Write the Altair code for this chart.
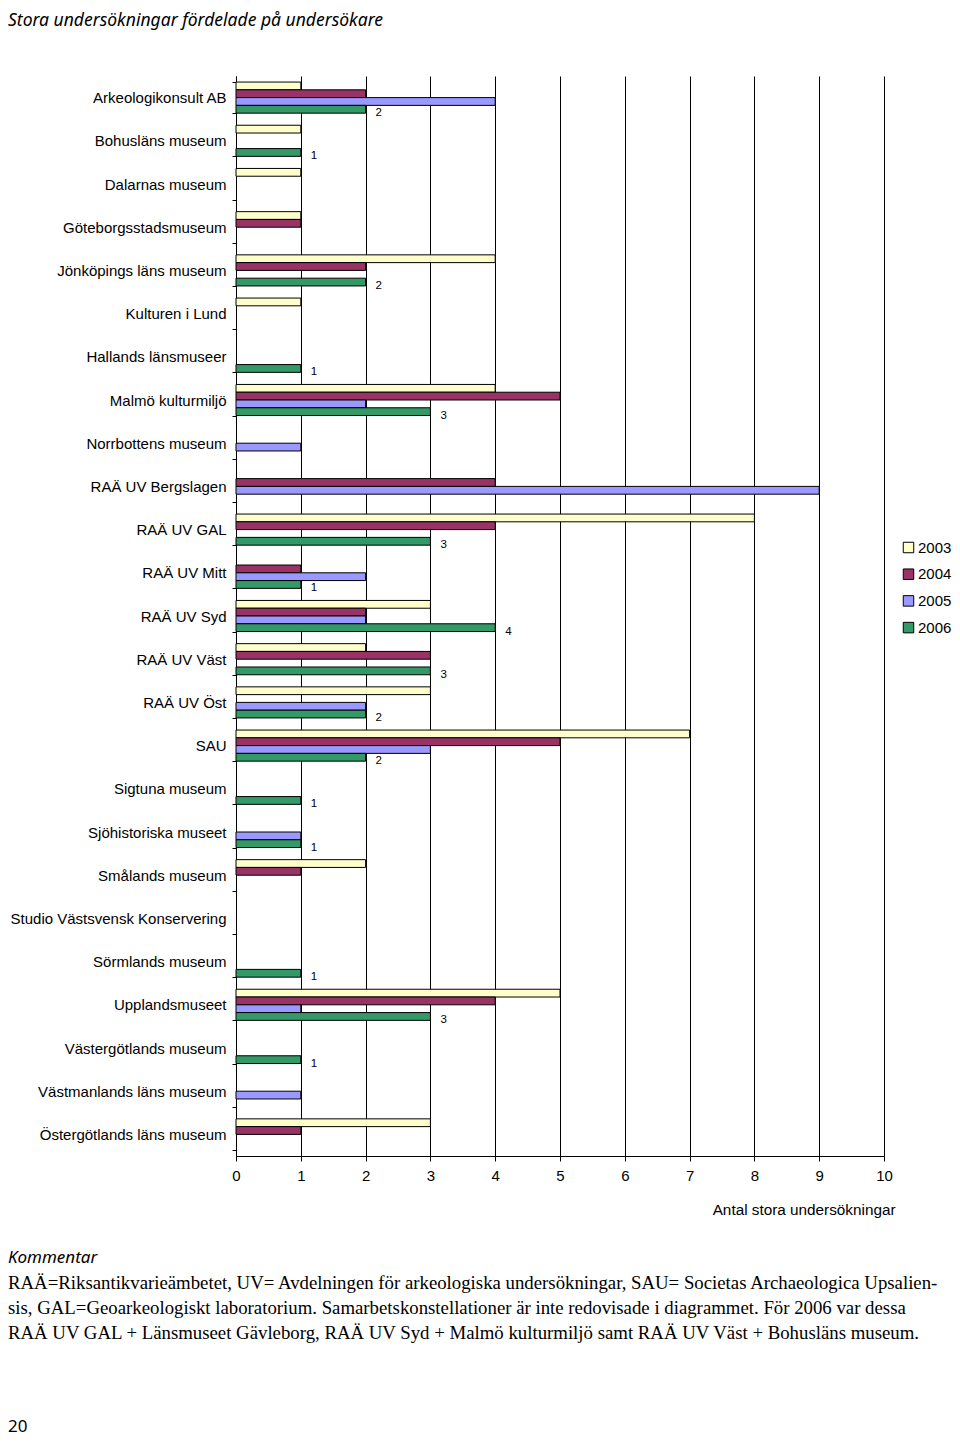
import altair as alt
import pandas as pd

categories = [
    "Arkeologikonsult AB", "Bohusläns museum", "Dalarnas museum", "Göteborgsstadsmuseum",
    "Jönköpings läns museum", "Kulturen i Lund", "Hallands länsmuseer", "Malmö kulturmiljö",
    "Norrbottens museum", "RAÄ UV Bergslagen", "RAÄ UV GAL", "RAÄ UV Mitt", "RAÄ UV Syd",
    "RAÄ UV Väst", "RAÄ UV Öst", "SAU", "Sigtuna museum", "Sjöhistoriska museet",
    "Smålands museum", "Studio Västsvensk Konservering", "Sörmlands museum", "Upplandsmuseet",
    "Västergötlands museum", "Västmanlands läns museum", "Östergötlands läns museum",
]
years = ["2003", "2004", "2005", "2006"]
v2003 = [1, 1, 1, 1, 4, 1, 0, 4, 0, 0, 8, 0, 3, 2, 3, 7, 0, 0, 2, 0, 0, 5, 0, 0, 3]
v2004 = [2, 0, 0, 1, 2, 0, 0, 5, 0, 4, 4, 1, 2, 3, 0, 5, 0, 0, 1, 0, 0, 4, 0, 0, 1]
v2005 = [4, 0, 0, 0, 0, 0, 0, 2, 1, 9, 0, 2, 2, 0, 2, 3, 0, 1, 0, 0, 0, 1, 0, 1, 0]
v2006 = [2, 1, 0, 0, 2, 0, 1, 3, 0, 0, 3, 1, 4, 3, 2, 2, 1, 1, 0, 0, 1, 3, 1, 0, 0]
colors = ["#FFFFCC", "#993366", "#9999FF", "#339966"]
x_ticks = [0, 1, 2, 3, 4, 5, 6, 7, 8, 9, 10]

title_text = "Stora undersökningar fördelade på undersökare"
x_title = "Antal stora undersökningar"
comment_head = "Kommentar"
comment_lines = [
    "RAÄ=Riksantikvarieämbetet, UV= Avdelningen för arkeologiska undersökningar, SAU= Societas Archaeologica Upsalien-",
    "sis, GAL=Geoarkeologiskt laboratorium. Samarbetskonstellationer är inte redovisade i diagrammet. För 2006 var dessa",
    "RAÄ UV GAL + Länsmuseet Gävleborg, RAÄ UV Syd + Malmö kulturmiljö samt RAÄ UV Väst + Bohusläns museum.",
]
page_number = "20"

rows = []
for yr, vals in zip(years, [v2003, v2004, v2005, v2006]):
    for org, v in zip(categories, vals):
        rows.append({"org": org, "year": yr, "value": v})
df = pd.DataFrame(rows)

y_enc = alt.Y(
    "org:N",
    sort=categories,
    scale=alt.Scale(domain=categories, paddingInner=0.28, paddingOuter=0.14),
    axis=alt.Axis(
        title=None, tickBand="extent", labelFontSize=15, labelFont="Liberation Sans",
        labelColor="black", domainColor="black", tickColor="black", tickSize=4,
        labelPadding=6, grid=False, labelLimit=400,
    ),
)
yoff_enc = alt.YOffset("year:N", sort=years, scale=alt.Scale(domain=years, paddingInner=0, paddingOuter=0))
x_enc = alt.X(
    "value:Q",
    scale=alt.Scale(domain=[0, 10], nice=False),
    axis=alt.Axis(
        values=x_ticks, format="d", grid=True, gridColor="black", gridOpacity=1, gridWidth=1,
        domainColor="black", tickColor="black", tickSize=5, labelFontSize=15,
        labelFont="Liberation Sans", labelColor="black", labelPadding=7, labelFlush=False,
        title=x_title, titleFontSize=15.3, titleFont="Liberation Sans", titleFontWeight="normal",
        titleColor="black", titleX=659, titleY=53, titleAlign="right", titleBaseline="middle",
    ),
)

bars = alt.Chart(df).mark_bar(stroke="black", strokeWidth=1).encode(
    y=y_enc,
    x=x_enc,
    yOffset=yoff_enc,
    color=alt.Color(
        "year:N",
        scale=alt.Scale(domain=years, range=colors),
        legend=alt.Legend(
            title=None, orient="none", legendX=665, legendY=464, symbolType="square",
            symbolSize=110, symbolStrokeColor="black", symbolStrokeWidth=1,
            symbolOpacity=1, labelFontSize=15, labelFont="Liberation Sans",
            labelColor="black", rowPadding=10.7, labelOffset=2,
        ),
    ),
).transform_filter("datum.value > 0")

labels = alt.Chart(df).mark_text(
    align="left", baseline="middle", dx=10, dy=4, fontSize=11.5, font="Liberation Sans", color="black"
).encode(
    y=y_enc,
    x=alt.X("value:Q", scale=alt.Scale(domain=[0, 10], nice=False)),
    yOffset=yoff_enc,
    text=alt.Text("value:Q", format="d"),
).transform_filter("datum.year == '2006' && datum.value > 0")


def note(txt, y, font, size, style="normal"):
    return alt.Chart(alt.Data(values=[{"t": txt}])).mark_text(
        align="left", baseline="middle", font=font, fontSize=size, fontStyle=style, color="black"
    ).encode(x=alt.value(-228), y=alt.value(y), text="t:N")


notes = [note(title_text, -55, "Noto Sans", 17.5, "italic"),
         note(comment_head, 1182, "Noto Sans", 17, "italic")]
for i, line in enumerate(comment_lines):
    notes.append(note(line, 1207 + 25 * i, "Liberation Serif", 18.8))
notes.append(note(page_number, 1351, "Noto Sans", 17))

chart = alt.layer(bars, labels, *notes).properties(
    width=648,
    height=1080,
    autosize=alt.AutoSizeParams(type="none"),
    padding={"left": 228, "top": 68, "right": 68, "bottom": 282},
).configure_view(stroke=None)

chart.save("out.html", embed_options={"renderer": "svg", "actions": False})
